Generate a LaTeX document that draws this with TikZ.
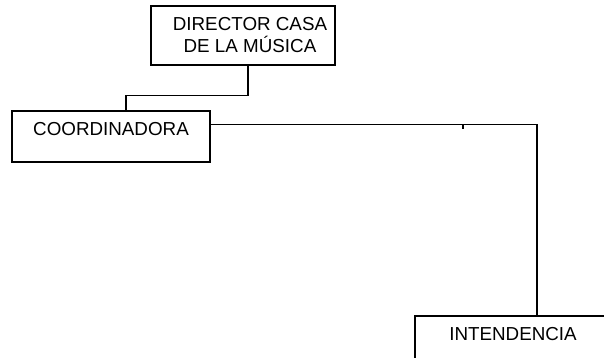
\documentclass[tikz,border=0pt]{standalone}
\usepackage{fontspec}
\setmainfont{Liberation Sans}
\usetikzlibrary{positioning,calc}

\begin{document}
\begin{tikzpicture}[x=0.5pt, y=-0.5pt, line width=0.6pt,
  every node/.style={font=\fontsize{9.4}{11}\selectfont},
  orgbox/.style={draw, rectangle, inner sep=0pt, align=center},
  topbox/.style={orgbox, inner ysep=5.5pt, text height=6.8pt, text depth=7.7pt, minimum height=25.5pt}]
\useasboundingbox (0,0) rectangle (604,358);
\clip (0,0) rectangle (604,358);
\node[orgbox, minimum width=92pt, minimum height=29.5pt] (dir) at (243,35.5) {\hspace*{7pt}DIRECTOR CASA\\\hspace*{7pt}DE LA MÚSICA};
\node[topbox, minimum width=99pt] (coord) at (111,136.5) {COORDINADORA};
\node[topbox, minimum width=98pt] (int) at (513,341.5) {INTENDENCIA};
\coordinate (tick) at (463,125);
\draw ([xshift=2.5pt]dir.south) -- ++(0,30) -| ([xshift=7.5pt]coord.north);
\draw ([yshift=-7pt]coord.north east) -| ([xshift=12pt]int.north);
\draw (tick) -- ++(0,4);
\end{tikzpicture}
\end{document}
